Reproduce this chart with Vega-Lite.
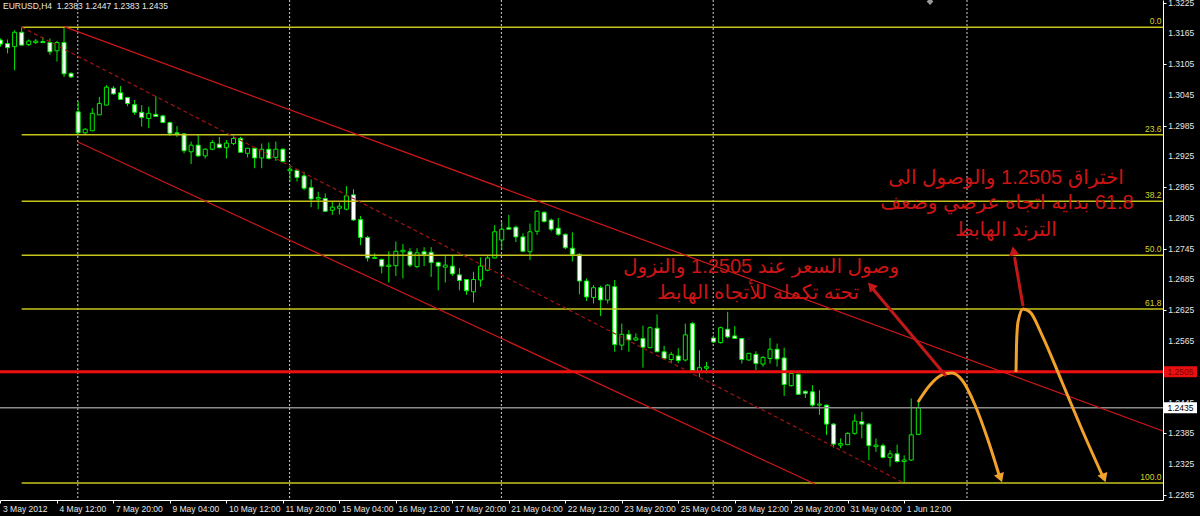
{
  "$schema": "https://vega.github.io/schema/vega-lite/v6.json",
  "width": 1163,
  "height": 500,
  "autosize": {"type": "none"},
  "padding": {"left": 0, "top": 0, "right": 37, "bottom": 16},
  "background": "#000000",
  "view": {"stroke": null, "fill": "#000000"},
  "config": {
    "axis": {"labelFont": "Liberation Sans", "labelFontSize": 8.5, "labelColor": "#e6e6e6", "domainColor": "#ffffff", "tickColor": "#ffffff", "domainWidth": 1, "tickWidth": 1, "tickSize": 3, "grid": false, "zindex": 0, "labelOverlap": false}
  },
  "datasets": {
    "seps": [{"i": 10.95}, {"i": 40.95}, {"i": 70.95}, {"i": 100.95}, {"i": 136.9}],
    "ylabels": [
      {"p": 1.2265, "t": "1.2265"}, {"p": 1.2325, "t": "1.2325"}, {"p": 1.2385, "t": "1.2385"}, {"p": 1.2445, "t": "1.2445"},
      {"p": 1.2505, "t": "1.2505"}, {"p": 1.2565, "t": "1.2565"}, {"p": 1.2625, "t": "1.2625"}, {"p": 1.2685, "t": "1.2685"},
      {"p": 1.2745, "t": "1.2745"}, {"p": 1.2805, "t": "1.2805"}, {"p": 1.2865, "t": "1.2865"}, {"p": 1.2925, "t": "1.2925"},
      {"p": 1.2985, "t": "1.2985"}, {"p": 1.3045, "t": "1.3045"}, {"p": 1.3105, "t": "1.3105"}, {"p": 1.3165, "t": "1.3165"},
      {"p": 1.3225, "t": "1.3225"}
    ],
    "candles": [
      {"i":0,"o":1.3152,"h":1.3155,"l":1.3139,"c":1.3144},
      {"i":1,"o":1.3145,"h":1.3153,"l":1.3126,"c":1.3137},
      {"i":2,"o":1.3139,"h":1.3171,"l":1.3093,"c":1.3167},
      {"i":3,"o":1.3167,"h":1.3177,"l":1.3142,"c":1.3142},
      {"i":4,"o":1.3143,"h":1.3153,"l":1.3140,"c":1.3150},
      {"i":5,"o":1.3147,"h":1.3154,"l":1.3144,"c":1.3150},
      {"i":6,"o":1.3149,"h":1.3158,"l":1.3146,"c":1.3147},
      {"i":7,"o":1.3147,"h":1.3155,"l":1.3123,"c":1.3129},
      {"i":8,"o":1.3131,"h":1.3150,"l":1.3110,"c":1.3147},
      {"i":9,"o":1.3147,"h":1.3178,"l":1.3080,"c":1.3086},
      {"i":10,"o":1.3087,"h":1.3089,"l":1.3078,"c":1.3080},
      {"i":11,"o":1.3012,"h":1.3032,"l":1.2970,"c":1.2971},
      {"i":12,"o":1.2971,"h":1.2980,"l":1.2967,"c":1.2978},
      {"i":13,"o":1.2975,"h":1.3019,"l":1.2975,"c":1.3009},
      {"i":14,"o":1.3006,"h":1.3041,"l":1.3006,"c":1.3028},
      {"i":15,"o":1.3025,"h":1.3064,"l":1.3025,"c":1.3060},
      {"i":16,"o":1.3058,"h":1.3062,"l":1.3045,"c":1.3047},
      {"i":17,"o":1.3049,"h":1.3062,"l":1.3035,"c":1.3036},
      {"i":18,"o":1.3040,"h":1.3041,"l":1.3023,"c":1.3028},
      {"i":19,"o":1.3026,"h":1.3035,"l":1.3006,"c":1.3011},
      {"i":20,"o":1.3011,"h":1.3025,"l":1.2983,"c":1.3001},
      {"i":21,"o":1.2999,"h":1.3022,"l":1.2980,"c":1.3009},
      {"i":22,"o":1.3007,"h":1.3043,"l":1.3002,"c":1.3003},
      {"i":23,"o":1.3004,"h":1.3006,"l":1.2990,"c":1.2991},
      {"i":24,"o":1.2991,"h":1.2993,"l":1.2965,"c":1.2970},
      {"i":25,"o":1.2971,"h":1.2984,"l":1.2963,"c":1.2969},
      {"i":26,"o":1.2969,"h":1.2970,"l":1.2931,"c":1.2936},
      {"i":27,"o":1.2934,"h":1.2954,"l":1.2910,"c":1.2947},
      {"i":28,"o":1.2947,"h":1.2967,"l":1.2924,"c":1.2926},
      {"i":29,"o":1.2926,"h":1.2941,"l":1.2921,"c":1.2939},
      {"i":30,"o":1.2939,"h":1.2957,"l":1.2937,"c":1.2952},
      {"i":31,"o":1.2949,"h":1.2963,"l":1.2941,"c":1.2942},
      {"i":32,"o":1.2942,"h":1.2957,"l":1.2921,"c":1.2951},
      {"i":33,"o":1.2950,"h":1.2966,"l":1.2947,"c":1.2960},
      {"i":34,"o":1.2960,"h":1.2963,"l":1.2933,"c":1.2933},
      {"i":35,"o":1.2931,"h":1.2941,"l":1.2923,"c":1.2941},
      {"i":36,"o":1.2941,"h":1.2942,"l":1.2902,"c":1.2922},
      {"i":37,"o":1.2922,"h":1.2950,"l":1.2902,"c":1.2939},
      {"i":38,"o":1.2939,"h":1.2952,"l":1.2919,"c":1.2921},
      {"i":39,"o":1.2923,"h":1.2954,"l":1.2916,"c":1.2939},
      {"i":40,"o":1.2939,"h":1.2941,"l":1.2913,"c":1.2915},
      {"i":41,"o":1.2897,"h":1.2908,"l":1.2876,"c":1.2900},
      {"i":42,"o":1.2898,"h":1.2899,"l":1.2876,"c":1.2884},
      {"i":43,"o":1.2887,"h":1.2895,"l":1.2859,"c":1.2863},
      {"i":44,"o":1.2864,"h":1.2880,"l":1.2826,"c":1.2842},
      {"i":45,"o":1.2842,"h":1.2856,"l":1.2822,"c":1.2845},
      {"i":46,"o":1.2843,"h":1.2853,"l":1.2817,"c":1.2818},
      {"i":47,"o":1.2820,"h":1.2837,"l":1.2811,"c":1.2826},
      {"i":48,"o":1.2824,"h":1.2835,"l":1.2812,"c":1.2828},
      {"i":49,"o":1.2822,"h":1.2867,"l":1.2820,"c":1.2848},
      {"i":50,"o":1.2850,"h":1.2861,"l":1.2799,"c":1.2801},
      {"i":51,"o":1.2802,"h":1.2809,"l":1.2752,"c":1.2767},
      {"i":52,"o":1.2767,"h":1.2770,"l":1.2720,"c":1.2727},
      {"i":53,"o":1.2726,"h":1.2736,"l":1.2725,"c":1.2728},
      {"i":54,"o":1.2724,"h":1.2726,"l":1.2697,"c":1.2711},
      {"i":55,"o":1.2710,"h":1.2740,"l":1.2679,"c":1.2713},
      {"i":56,"o":1.2712,"h":1.2759,"l":1.2692,"c":1.2740},
      {"i":57,"o":1.2739,"h":1.2754,"l":1.2687,"c":1.2742},
      {"i":58,"o":1.2739,"h":1.2746,"l":1.2709,"c":1.2713},
      {"i":59,"o":1.2710,"h":1.2746,"l":1.2707,"c":1.2737},
      {"i":60,"o":1.2739,"h":1.2748,"l":1.2711,"c":1.2734},
      {"i":61,"o":1.2738,"h":1.2748,"l":1.2690,"c":1.2718},
      {"i":62,"o":1.2718,"h":1.2720,"l":1.2664,"c":1.2711},
      {"i":63,"o":1.2709,"h":1.2733,"l":1.2679,"c":1.2713},
      {"i":64,"o":1.2711,"h":1.2733,"l":1.2692,"c":1.2696},
      {"i":65,"o":1.2694,"h":1.2707,"l":1.2664,"c":1.2683},
      {"i":66,"o":1.2685,"h":1.2686,"l":1.2655,"c":1.2663},
      {"i":67,"o":1.2661,"h":1.2700,"l":1.2640,"c":1.2685},
      {"i":68,"o":1.2684,"h":1.2728,"l":1.2671,"c":1.2711},
      {"i":69,"o":1.2703,"h":1.2733,"l":1.2701,"c":1.2727},
      {"i":70,"o":1.2727,"h":1.2791,"l":1.2726,"c":1.2778},
      {"i":71,"o":1.2762,"h":1.2797,"l":1.2742,"c":1.2783},
      {"i":72,"o":1.2786,"h":1.2811,"l":1.2783,"c":1.2783},
      {"i":73,"o":1.2787,"h":1.2790,"l":1.2758,"c":1.2768},
      {"i":74,"o":1.2768,"h":1.2775,"l":1.2738,"c":1.2740},
      {"i":75,"o":1.2739,"h":1.2794,"l":1.2723,"c":1.2778},
      {"i":76,"o":1.2779,"h":1.2820,"l":1.2772,"c":1.2818},
      {"i":77,"o":1.2816,"h":1.2818,"l":1.2796,"c":1.2798},
      {"i":78,"o":1.2801,"h":1.2804,"l":1.2779,"c":1.2783},
      {"i":79,"o":1.2785,"h":1.2805,"l":1.2770,"c":1.2773},
      {"i":80,"o":1.2773,"h":1.2775,"l":1.2744,"c":1.2747},
      {"i":81,"o":1.2746,"h":1.2777,"l":1.2720,"c":1.2734},
      {"i":82,"o":1.2734,"h":1.2736,"l":1.2656,"c":1.2682},
      {"i":83,"o":1.2682,"h":1.2687,"l":1.2643,"c":1.2651},
      {"i":84,"o":1.2650,"h":1.2674,"l":1.2638,"c":1.2669},
      {"i":85,"o":1.2669,"h":1.2673,"l":1.2614,"c":1.2645},
      {"i":86,"o":1.2645,"h":1.2676,"l":1.2638,"c":1.2674},
      {"i":87,"o":1.2671,"h":1.2684,"l":1.2544,"c":1.2558},
      {"i":88,"o":1.2557,"h":1.2599,"l":1.2547,"c":1.2578},
      {"i":89,"o":1.2578,"h":1.2586,"l":1.2544,"c":1.2567},
      {"i":90,"o":1.2567,"h":1.2580,"l":1.2565,"c":1.2571},
      {"i":91,"o":1.2570,"h":1.2595,"l":1.2513,"c":1.2553},
      {"i":92,"o":1.2552,"h":1.2593,"l":1.2551,"c":1.2591},
      {"i":93,"o":1.2590,"h":1.2617,"l":1.2544,"c":1.2544},
      {"i":94,"o":1.2544,"h":1.2556,"l":1.2528,"c":1.2531},
      {"i":95,"o":1.2529,"h":1.2544,"l":1.2522,"c":1.2539},
      {"i":96,"o":1.2536,"h":1.2551,"l":1.2522,"c":1.2527},
      {"i":97,"o":1.2528,"h":1.2599,"l":1.2525,"c":1.2577},
      {"i":98,"o":1.2599,"h":1.2602,"l":1.2505,"c":1.2507},
      {"i":99,"o":1.2506,"h":1.2547,"l":1.2495,"c":1.2513},
      {"i":100,"o":1.2512,"h":1.2524,"l":1.2502,"c":1.2515},
      {"i":101,"o":1.2571,"h":1.2576,"l":1.2561,"c":1.2563},
      {"i":102,"o":1.2562,"h":1.2593,"l":1.2560,"c":1.2591},
      {"i":103,"o":1.2588,"h":1.2622,"l":1.2570,"c":1.2573},
      {"i":104,"o":1.2575,"h":1.2594,"l":1.2569,"c":1.2570},
      {"i":105,"o":1.2570,"h":1.2571,"l":1.2521,"c":1.2529},
      {"i":106,"o":1.2528,"h":1.2542,"l":1.2527,"c":1.2541},
      {"i":107,"o":1.2539,"h":1.2545,"l":1.2508,"c":1.2521},
      {"i":108,"o":1.2520,"h":1.2536,"l":1.2515,"c":1.2533},
      {"i":109,"o":1.2531,"h":1.2571,"l":1.2521,"c":1.2549},
      {"i":110,"o":1.2549,"h":1.2560,"l":1.2515,"c":1.2530},
      {"i":111,"o":1.2532,"h":1.2552,"l":1.2458,"c":1.2480},
      {"i":112,"o":1.2478,"h":1.2508,"l":1.2476,"c":1.2502},
      {"i":113,"o":1.2500,"h":1.2502,"l":1.2460,"c":1.2461},
      {"i":114,"o":1.2467,"h":1.2469,"l":1.2454,"c":1.2463},
      {"i":115,"o":1.2466,"h":1.2479,"l":1.2437,"c":1.2440},
      {"i":116,"o":1.2440,"h":1.2469,"l":1.2421,"c":1.2442},
      {"i":117,"o":1.2440,"h":1.2441,"l":1.2382,"c":1.2403},
      {"i":118,"o":1.2403,"h":1.2405,"l":1.2357,"c":1.2364},
      {"i":119,"o":1.2362,"h":1.2375,"l":1.2356,"c":1.2365},
      {"i":120,"o":1.2363,"h":1.2387,"l":1.2362,"c":1.2385},
      {"i":121,"o":1.2385,"h":1.2422,"l":1.2382,"c":1.2409},
      {"i":122,"o":1.2408,"h":1.2427,"l":1.2375,"c":1.2403},
      {"i":123,"o":1.2403,"h":1.2405,"l":1.2333,"c":1.2361},
      {"i":124,"o":1.2359,"h":1.2375,"l":1.2349,"c":1.2362},
      {"i":125,"o":1.2361,"h":1.2365,"l":1.2336,"c":1.2338},
      {"i":126,"o":1.2338,"h":1.2352,"l":1.2320,"c":1.2345},
      {"i":127,"o":1.2345,"h":1.2363,"l":1.2328,"c":1.2330},
      {"i":128,"o":1.2330,"h":1.2342,"l":1.2288,"c":1.2333},
      {"i":129,"o":1.2333,"h":1.2453,"l":1.2331,"c":1.2382},
      {"i":130,"o":1.2383,"h":1.2447,"l":1.2383,"c":1.2435}
    ],
    "fib": [
      {"p": 1.3177, "lab": "0.0"},
      {"p": 1.29672, "lab": "23.6"},
      {"p": 1.28374, "lab": "38.2"},
      {"p": 1.27325, "lab": "50.0"},
      {"p": 1.26276, "lab": "61.8"},
      {"p": 1.2288, "lab": "100.0"}
    ],
    "bidline": [{"p": 1.2505}],
    "lastline": [{"p": 1.2435}],
    "channel": [
      {"i": 9, "p": 1.3178, "i2": 164.66, "p2": 1.23895},
      {"i": 10.98, "p": 1.29531, "i2": 115.37, "p2": 1.22862}
    ],
    "midline": [{"i": 3, "p": 1.3177, "i2": 128, "p2": 1.2288}],
    "curves": [
      {"curve": "a", "i": 129.96, "p": 1.24461},
      {"curve": "a", "i": 131.66, "p": 1.24792},
      {"curve": "a", "i": 133.36, "p": 1.24988},
      {"curve": "a", "i": 134.78, "p": 1.25027},
      {"curve": "a", "i": 136.19, "p": 1.2489},
      {"curve": "a", "i": 138.03, "p": 1.24403},
      {"curve": "a", "i": 139.87, "p": 1.2372},
      {"curve": "a", "i": 141.57, "p": 1.22979},
      {"curve": "b", "i": 143.84, "p": 1.25046},
      {"curve": "b", "i": 143.91, "p": 1.25572},
      {"curve": "b", "i": 144.12, "p": 1.26021},
      {"curve": "b", "i": 144.83, "p": 1.26274},
      {"curve": "b", "i": 145.82, "p": 1.26216},
      {"curve": "b", "i": 147.52, "p": 1.25767},
      {"curve": "b", "i": 150.35, "p": 1.24851},
      {"curve": "b", "i": 153.33, "p": 1.23876},
      {"curve": "b", "i": 156.16, "p": 1.23}
    ],
    "orangeheads": [{"i": 141.64, "p": 1.22979}, {"i": 156.3, "p": 1.22979}],
    "redarrows": [
      {"i": 133.92, "p": 1.24968, "i2": 123.58, "p2": 1.26664},
      {"i": 144.83, "p": 1.26333, "i2": 143.63, "p2": 1.27288}
    ],
    "headA": [{"i": 123.3, "p": 1.26723}],
    "headB": [{"i": 143.48, "p": 1.27406}],
    "notes": [
      {"t": "وصول السعر عند 1.2505 والنزول", "i": 107.72, "p": 1.27093},
      {"t": "تحته تكمله للأتجاه الهابط", "i": 107.3, "p": 1.26586},
      {"t": "اختراق 1.2505 والوصول الى", "i": 142.42, "p": 1.28829},
      {"t": "\u200f61.8 بدايه اتجاه عرضي وضعف", "i": 142.56, "p": 1.28341},
      {"t": "الترند الهابط", "i": 142.42, "p": 1.27815}
    ],
    "header": [{"t": "EURUSD,H4\u00a0 1.2383 1.2447 1.2383 1.2435", "i": 0.35, "p": 1.32183}],
    "boxes": [
      {"kind": "bid", "t": "1.2505", "i": 167.14, "p": 1.2505},
      {"kind": "last", "t": "1.2435", "i": 167.14, "p": 1.2435}
    ],
    "marker": [{"i": 131.66, "p": 1.3227}]
  },
  "layer": [
    {
      "data": {"name": "seps"},
      "mark": {"type": "rule", "color": "#d0d0d0", "strokeWidth": 1, "strokeDash": [2, 2]},
      "encoding": {
        "x": {"field": "i", "type": "quantitative", "title": null, "scale": {"type": "linear", "domain": [-0.07, 164.66], "nice": false, "zero": false, "padding": 0},
          "axis": {"orient": "bottom", "title": null, "values": [0, 8, 16, 24, 32, 40, 48, 56, 64, 72, 80, 88, 96, 104, 112, 120, 128],
            "labelExpr": "['3 May 2012','4 May 12:00','7 May 20:00','9 May 04:00','10 May 12:00','11 May 20:00','15 May 04:00','16 May 12:00','17 May 20:00','21 May 04:00','22 May 12:00','23 May 20:00','25 May 04:00','28 May 12:00','29 May 20:00','31 May 04:00','1 Jun 12:00'][round(datum.value/8)]",
            "labelAlign": "left", "labelOffset": 2, "labelPadding": 1, "labelOverlap": false, "labelFlush": false, "labelBound": false}}
      }
    },
    {
      "data": {"name": "candles"},
      "mark": {"type": "rule", "color": "#00ee00", "strokeWidth": 1},
      "encoding": {
        "x": {"field": "i", "type": "quantitative", "title": null, "scale": {"type": "linear", "domain": [-0.07, 164.66], "nice": false, "zero": false, "padding": 0}},
        "y": {"field": "l", "type": "quantitative", "title": null, "scale": {"type": "linear", "domain": [1.2255, 1.323], "nice": false, "zero": false},
          "axis": {"orient": "right", "title": null, "values": [1.2265, 1.2325, 1.2385, 1.2445, 1.2505, 1.2565, 1.2625, 1.2685, 1.2745, 1.2805, 1.2865, 1.2925, 1.2985, 1.3045, 1.3105, 1.3165, 1.3225],
            "labels": false}},
        "y2": {"field": "h"}
      }
    },
    {
      "data": {"name": "candles"},
      "mark": {"type": "bar", "width": 4, "stroke": "#00ee00", "strokeWidth": 1},
      "encoding": {
        "x": {"field": "i", "type": "quantitative", "title": null, "scale": {"type": "linear", "domain": [-0.07, 164.66], "nice": false, "zero": false, "padding": 0}},
        "y": {"field": "o", "type": "quantitative", "title": null, "scale": {"type": "linear", "domain": [1.2255, 1.323], "nice": false, "zero": false}},
        "y2": {"field": "c"},
        "fill": {"condition": {"test": "datum.c < datum.o", "value": "#ffffff"}, "value": "#000000"}
      }
    },
    {
      "data": {"name": "ylabels"},
      "mark": {"type": "text", "color": "#e6e6e6", "font": "Liberation Sans", "fontSize": 8.5, "align": "left", "baseline": "middle"},
      "encoding": {
        "x": {"datum": 165.4, "type": "quantitative", "title": null, "scale": {"type": "linear", "domain": [-0.07, 164.66], "nice": false, "zero": false, "padding": 0}},
        "y": {"field": "p", "type": "quantitative", "title": null, "scale": {"type": "linear", "domain": [1.2255, 1.323], "nice": false, "zero": false}},
        "text": {"field": "t"}
      }
    },
    {
      "data": {"name": "fib"},
      "mark": {"type": "rule", "color": "#c4c41c", "strokeWidth": 1.5},
      "encoding": {
        "x": {"datum": 3, "type": "quantitative", "title": null, "scale": {"type": "linear", "domain": [-0.07, 164.66], "nice": false, "zero": false, "padding": 0}},
        "x2": {"datum": 164.66},
        "y": {"field": "p", "type": "quantitative", "title": null, "scale": {"type": "linear", "domain": [1.2255, 1.323], "nice": false, "zero": false}}
      }
    },
    {
      "data": {"name": "fib"},
      "mark": {"type": "text", "color": "#d4d42a", "font": "Liberation Sans", "fontSize": 8.5, "align": "right", "baseline": "bottom", "dy": -1},
      "encoding": {
        "x": {"datum": 164.45, "type": "quantitative", "title": null, "scale": {"type": "linear", "domain": [-0.07, 164.66], "nice": false, "zero": false, "padding": 0}},
        "y": {"field": "p", "type": "quantitative", "title": null, "scale": {"type": "linear", "domain": [1.2255, 1.323], "nice": false, "zero": false}},
        "text": {"field": "lab"}
      }
    },
    {
      "data": {"name": "lastline"},
      "mark": {"type": "rule", "color": "#8c8c8c", "strokeWidth": 1.5},
      "encoding": {
        "y": {"field": "p", "type": "quantitative", "title": null, "scale": {"type": "linear", "domain": [1.2255, 1.323], "nice": false, "zero": false}}
      }
    },
    {
      "data": {"name": "channel"},
      "mark": {"type": "rule", "color": "#d01818", "strokeWidth": 1.2},
      "encoding": {
        "x": {"field": "i", "type": "quantitative", "title": null, "scale": {"type": "linear", "domain": [-0.07, 164.66], "nice": false, "zero": false, "padding": 0}},
        "x2": {"field": "i2"},
        "y": {"field": "p", "type": "quantitative", "title": null, "scale": {"type": "linear", "domain": [1.2255, 1.323], "nice": false, "zero": false}},
        "y2": {"field": "p2"}
      }
    },
    {
      "data": {"name": "midline"},
      "mark": {"type": "rule", "color": "#a01414", "strokeWidth": 1.2, "strokeDash": [4, 3]},
      "encoding": {
        "x": {"field": "i", "type": "quantitative", "title": null, "scale": {"type": "linear", "domain": [-0.07, 164.66], "nice": false, "zero": false, "padding": 0}},
        "x2": {"field": "i2"},
        "y": {"field": "p", "type": "quantitative", "title": null, "scale": {"type": "linear", "domain": [1.2255, 1.323], "nice": false, "zero": false}},
        "y2": {"field": "p2"}
      }
    },
    {
      "data": {"name": "bidline"},
      "mark": {"type": "rule", "color": "#ee1010", "strokeWidth": 3},
      "encoding": {
        "y": {"field": "p", "type": "quantitative", "title": null, "scale": {"type": "linear", "domain": [1.2255, 1.323], "nice": false, "zero": false}}
      }
    },
    {
      "data": {"name": "curves"},
      "mark": {"type": "line", "color": "#f2a12a", "strokeWidth": 3, "interpolate": "monotone"},
      "encoding": {
        "x": {"field": "i", "type": "quantitative", "title": null, "scale": {"type": "linear", "domain": [-0.07, 164.66], "nice": false, "zero": false, "padding": 0}},
        "y": {"field": "p", "type": "quantitative", "title": null, "scale": {"type": "linear", "domain": [1.2255, 1.323], "nice": false, "zero": false}},
        "detail": {"field": "curve"}
      }
    },
    {
      "data": {"name": "orangeheads"},
      "mark": {"type": "point", "shape": "triangle-down", "filled": true, "color": "#f2a12a", "size": 110, "angle": 340, "opacity": 1},
      "encoding": {
        "x": {"field": "i", "type": "quantitative", "title": null, "scale": {"type": "linear", "domain": [-0.07, 164.66], "nice": false, "zero": false, "padding": 0}},
        "y": {"field": "p", "type": "quantitative", "title": null, "scale": {"type": "linear", "domain": [1.2255, 1.323], "nice": false, "zero": false}}
      }
    },
    {
      "data": {"name": "redarrows"},
      "mark": {"type": "rule", "color": "#c41818", "strokeWidth": 3},
      "encoding": {
        "x": {"field": "i", "type": "quantitative", "title": null, "scale": {"type": "linear", "domain": [-0.07, 164.66], "nice": false, "zero": false, "padding": 0}},
        "x2": {"field": "i2"},
        "y": {"field": "p", "type": "quantitative", "title": null, "scale": {"type": "linear", "domain": [1.2255, 1.323], "nice": false, "zero": false}},
        "y2": {"field": "p2"}
      }
    },
    {
      "data": {"name": "headA"},
      "mark": {"type": "point", "shape": "triangle-up", "filled": true, "color": "#c41818", "size": 110, "angle": 320, "opacity": 1},
      "encoding": {
        "x": {"field": "i", "type": "quantitative", "title": null, "scale": {"type": "linear", "domain": [-0.07, 164.66], "nice": false, "zero": false, "padding": 0}},
        "y": {"field": "p", "type": "quantitative", "title": null, "scale": {"type": "linear", "domain": [1.2255, 1.323], "nice": false, "zero": false}}
      }
    },
    {
      "data": {"name": "headB"},
      "mark": {"type": "point", "shape": "triangle-up", "filled": true, "color": "#c41818", "size": 110, "angle": 350, "opacity": 1},
      "encoding": {
        "x": {"field": "i", "type": "quantitative", "title": null, "scale": {"type": "linear", "domain": [-0.07, 164.66], "nice": false, "zero": false, "padding": 0}},
        "y": {"field": "p", "type": "quantitative", "title": null, "scale": {"type": "linear", "domain": [1.2255, 1.323], "nice": false, "zero": false}}
      }
    },
    {
      "data": {"name": "notes"},
      "mark": {"type": "text", "color": "#cc1414", "font": "Liberation Sans, DejaVu Sans", "fontSize": 20, "align": "center", "baseline": "middle"},
      "encoding": {
        "x": {"field": "i", "type": "quantitative", "title": null, "scale": {"type": "linear", "domain": [-0.07, 164.66], "nice": false, "zero": false, "padding": 0}},
        "y": {"field": "p", "type": "quantitative", "title": null, "scale": {"type": "linear", "domain": [1.2255, 1.323], "nice": false, "zero": false}},
        "text": {"field": "t"}
      }
    },
    {
      "data": {"name": "header"},
      "mark": {"type": "text", "color": "#e8e8e8", "font": "Liberation Sans", "fontSize": 8.5, "align": "left", "baseline": "middle"},
      "encoding": {
        "x": {"field": "i", "type": "quantitative", "title": null, "scale": {"type": "linear", "domain": [-0.07, 164.66], "nice": false, "zero": false, "padding": 0}},
        "y": {"field": "p", "type": "quantitative", "title": null, "scale": {"type": "linear", "domain": [1.2255, 1.323], "nice": false, "zero": false}},
        "text": {"field": "t"}
      }
    },
    {
      "data": {"name": "marker"},
      "mark": {"type": "point", "shape": "diamond", "filled": true, "color": "#9a9a9a", "size": 45, "opacity": 1},
      "encoding": {
        "x": {"field": "i", "type": "quantitative", "title": null, "scale": {"type": "linear", "domain": [-0.07, 164.66], "nice": false, "zero": false, "padding": 0}},
        "y": {"field": "p", "type": "quantitative", "title": null, "scale": {"type": "linear", "domain": [1.2255, 1.323], "nice": false, "zero": false}}
      }
    },
    {
      "data": {"name": "boxes"},
      "mark": {"type": "point", "shape": "M-1,-0.333H1V0.333H-1Z", "filled": true, "size": 1089, "opacity": 1},
      "encoding": {
        "x": {"field": "i", "type": "quantitative", "title": null, "scale": {"type": "linear", "domain": [-0.07, 164.66], "nice": false, "zero": false, "padding": 0}},
        "y": {"field": "p", "type": "quantitative", "title": null, "scale": {"type": "linear", "domain": [1.2255, 1.323], "nice": false, "zero": false}},
        "color": {"field": "kind", "type": "nominal", "scale": {"domain": ["bid", "last"], "range": ["#e81010", "#ffffff"]}, "legend": null}
      }
    },
    {
      "data": {"name": "boxes"},
      "mark": {"type": "text", "font": "Liberation Sans", "fontSize": 8.5, "align": "center", "baseline": "middle"},
      "encoding": {
        "x": {"field": "i", "type": "quantitative", "title": null, "scale": {"type": "linear", "domain": [-0.07, 164.66], "nice": false, "zero": false, "padding": 0}},
        "y": {"field": "p", "type": "quantitative", "title": null, "scale": {"type": "linear", "domain": [1.2255, 1.323], "nice": false, "zero": false}},
        "text": {"field": "t"},
        "fill": {"field": "kind", "type": "nominal", "scale": {"domain": ["bid", "last"], "range": ["#800000", "#000000"]}, "legend": null}
      }
    }
  ]
}
